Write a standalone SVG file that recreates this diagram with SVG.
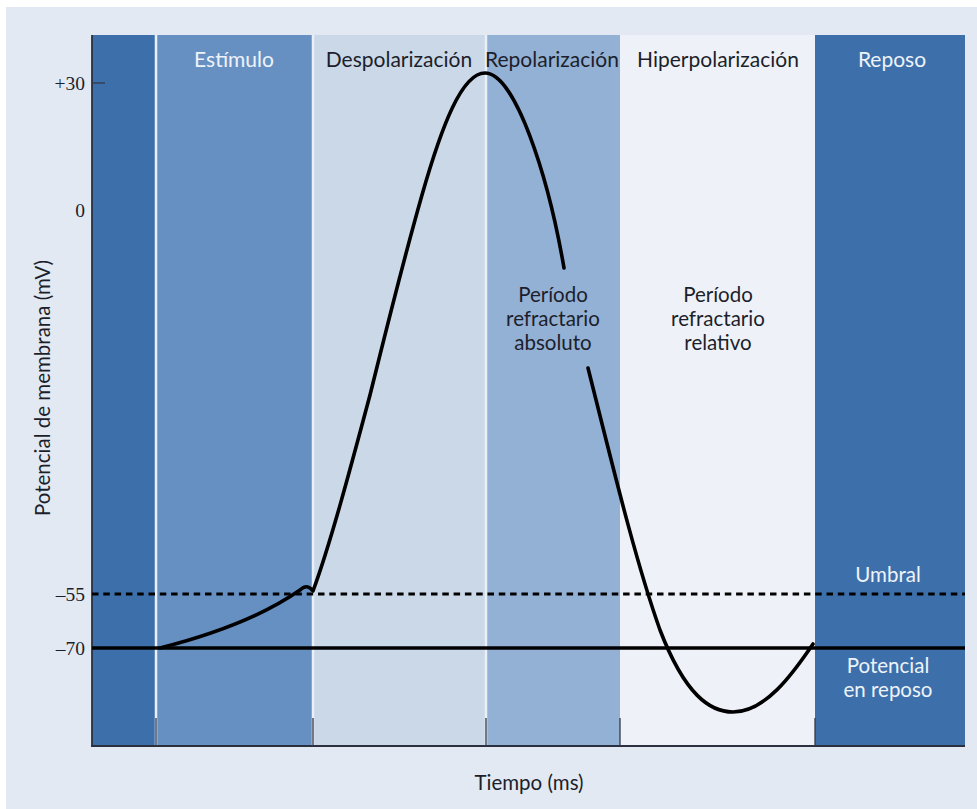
<svg xmlns="http://www.w3.org/2000/svg" width="977" height="809" viewBox="0 0 977 809">
  <style>
    .hdr { font-family: Lato, "Open Sans", sans-serif; font-size: 21px; text-anchor: middle; }
    .lbl { font-family: Lato, "Open Sans", sans-serif; font-size: 20.5px; text-anchor: middle; }
    .dark { fill: #1c1f2b; }
    .light { fill: #eef3f9; }
    .num { font-family: "Liberation Serif", serif; font-size: 19.5px; text-anchor: end; fill: #1c1f2b; }
    .sep { stroke: #e9f0f8; stroke-width: 2.5; }
    .tick { stroke: #333844; stroke-width: 1.3; }
    .trace { fill: none; stroke: #000; stroke-width: 3.6; stroke-linecap: round; stroke-linejoin: round; }
  </style>

  <!-- page background -->
  <rect x="0" y="0" width="977" height="809" fill="#ffffff"/>
  <rect x="6" y="7" width="971" height="802" fill="#e2e9f2"/>

  <!-- phase bands -->
  <g id="bands">
    <rect id="band-inicio" x="92" y="35" width="64" height="711" fill="#3d70aa"/>
    <rect id="band-estimulo" x="156" y="35" width="157" height="711" fill="#6690c2"/>
    <rect id="band-despolarizacion" x="313" y="35" width="173" height="711" fill="#cad8e8"/>
    <rect id="band-repolarizacion" x="486" y="35" width="134" height="711" fill="#93b0d5"/>
    <rect id="band-hiperpolarizacion" x="620" y="35" width="195" height="711" fill="#eef2f8"/>
    <rect id="band-reposo" x="815" y="35" width="150" height="711" fill="#3d70aa"/>
    <line class="sep" x1="156" y1="35" x2="156" y2="746"/>
    <line class="sep" x1="313" y1="35" x2="313" y2="746"/>
    <line class="sep" x1="486" y1="35" x2="486" y2="746"/>
  </g>

  <!-- phase headings -->
  <g id="headings">
    <text class="hdr light" x="234" y="67">Estímulo</text>
    <text class="hdr dark" x="399" y="67">Despolarización</text>
    <text class="hdr dark" x="552" y="67">Repolarización</text>
    <text class="hdr dark" x="718" y="67">Hiperpolarización</text>
    <text class="hdr light" x="892" y="67">Reposo</text>
  </g>

  <!-- axes and ticks -->
  <g id="axes">
    <line x1="92" y1="35" x2="92" y2="746.5" stroke="#2a3040" stroke-width="1.8"/>
    <line x1="91" y1="746" x2="965" y2="746" stroke="#2a3040" stroke-width="1.8"/>
    <line class="tick" x1="92" y1="83" x2="105" y2="83" stroke-width="2"/>
    <line class="tick" x1="156" y1="718" x2="156" y2="746"/>
    <line class="tick" x1="313" y1="718" x2="313" y2="746"/>
    <line class="tick" x1="486" y1="718" x2="486" y2="746"/>
    <line class="tick" x1="620" y1="718" x2="620" y2="746"/>
    <line class="tick" x1="815" y1="718" x2="815" y2="746"/>
    <text class="num" x="85" y="90">+30</text>
    <text class="num" x="85" y="217">0</text>
    <text class="num" x="85" y="601">–55</text>
    <text class="num" x="85" y="655">–70</text>
    <text class="lbl dark" transform="translate(50,388) rotate(-90)">Potencial de membrana (mV)</text>
    <text class="lbl dark" x="529" y="790">Tiempo (ms)</text>
  </g>

  <!-- reference levels -->
  <g id="levels">
    <line id="umbral-line" x1="92" y1="594" x2="965" y2="594" stroke="#000" stroke-width="3" stroke-dasharray="6.5 4.8"/>
    <line id="reposo-line" x1="92" y1="648" x2="965" y2="648" stroke="#000" stroke-width="3.6"/>
    <text class="lbl light" x="888" y="582">Umbral</text>
    <text class="lbl light" x="888" y="673">Potencial</text>
    <text class="lbl light" x="888" y="697">en reposo</text>
  </g>

  <!-- action potential trace (broken around the label) -->
  <g id="connectors">
    <path class="trace" d="M160,648 Q250,625 300,590 Q307,583 313,591 C 330,545 350,470 370,395 C 385,335 402,265 422,195 C 442,125 462,73 485,73 C 515,73 548,175 564,268"/>
    <path class="trace" d="M588,368 C 610,455 635,560 660,630 C 685,695 710,712 733,712 C 765,712 792,675 813,644"/>
  </g>

  <!-- refractory period labels -->
  <g id="refractario-absoluto">
    <text class="lbl dark" x="553" y="302">Período</text>
    <text class="lbl dark" x="553" y="326">refractario</text>
    <text class="lbl dark" x="553" y="350">absoluto</text>
  </g>
  <g id="refractario-relativo">
    <text class="lbl dark" x="718" y="302">Período</text>
    <text class="lbl dark" x="718" y="326">refractario</text>
    <text class="lbl dark" x="718" y="350">relativo</text>
  </g>
</svg>
